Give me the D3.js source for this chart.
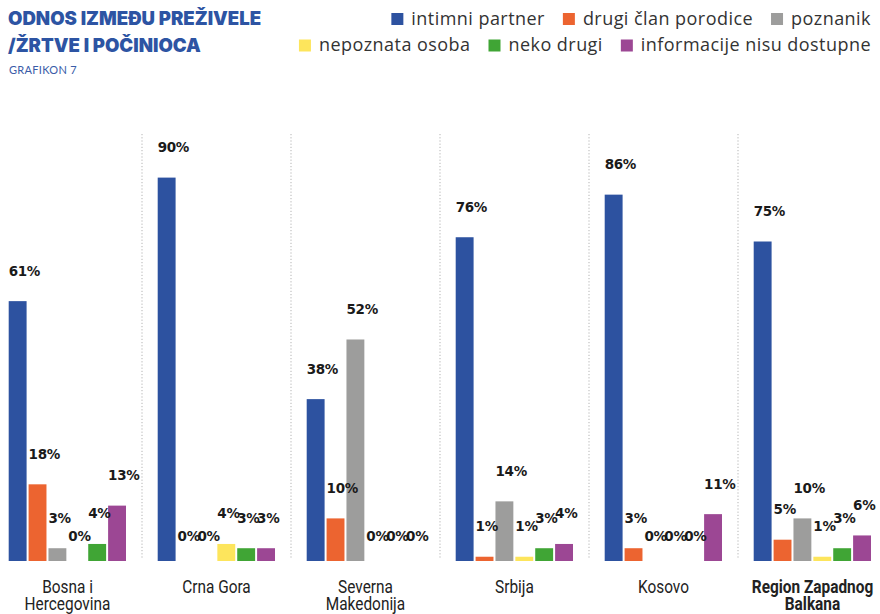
<!DOCTYPE html>
<html>
<head>
<meta charset="utf-8">
<script src="https://cdn.jsdelivr.net/npm/d3@7"></script>
<style>
  html, body { margin: 0; padding: 0; background: #fff; }
  svg { display: block; }
</style>
</head>
<body>
<svg id="chart" width="880" height="614"></svg>
<script>
const countries = ["Bosna i Hercegovina", "Crna Gora", "Severna Makedonija", "Srbija", "Kosovo", "Region Zapadnog Balkana"];
const countryLines = [["Bosna i", "Hercegovina"], ["Crna Gora"], ["Severna", "Makedonija"], ["Srbija"], ["Kosovo"], ["Region Zapadnog", "Balkana"]];
const seriesNames = ["intimni partner", "drugi član porodice", "poznanik", "nepoznata osoba", "neko drugi", "informacije nisu dostupne"];
const seriesColors = ["#2d52a0", "#ec6430", "#9d9d9c", "#fde55c", "#40a535", "#9c4794"];

const intimniPartner = [61, 90, 38, 76, 86, 75];
const drugiClanPorodice = [18, 0, 10, 1, 3, 5];
const poznanik = [3, 0, 52, 14, 0, 10];
const nepoznataOsoba = [0, 4, 0, 1, 0, 1];
const nekoDrugi = [4, 3, 0, 3, 0, 3];
const informacijeNisuDostupne = [13, 3, 0, 4, 11, 6];
const seriesValues = [intimniPartner, drugiClanPorodice, poznanik, nepoznataOsoba, nekoDrugi, informacijeNisuDostupne];

const svg = d3.select("#chart");

// Title
const titleColor = "#2d54a3";
svg.append("text").attr("x", 8).attr("y", 25)
  .attr("font-family", "Inter, Lato, sans-serif").attr("font-weight", 900)
  .attr("font-size", 18.6).attr("fill", titleColor)
  .text("ODNOS IZMEĐU PREŽIVELE");
svg.append("text").attr("x", 8).attr("y", 52)
  .attr("font-family", "Inter, Lato, sans-serif").attr("font-weight", 900)
  .attr("font-size", 18.6).attr("fill", titleColor)
  .text("/ŽRTVE I POČINIOCA");
svg.append("text").attr("x", 9).attr("y", 73.5)
  .attr("font-family", "Lato, sans-serif").attr("font-weight", 400)
  .attr("font-size", 11).attr("letter-spacing", 0.3).attr("fill", "#3a5ca8")
  .text("GRAFIKON 7");

// Legend (right-aligned rows)
const legendRows = [[0, 1, 2], [3, 4, 5]];
const legendRight = 871;
const legendBaselines = [24.5, 51];
legendRows.forEach((row, ri) => {
  const g = svg.append("g");
  let x = legendRight;
  for (let k = row.length - 1; k >= 0; k--) {
    const si = row[k];
    const t = g.append("text")
      .attr("y", legendBaselines[ri])
      .attr("font-family", "'Open Sans', sans-serif")
      .attr("font-size", 18).attr("letter-spacing", 0.45)
      .attr("fill", "#333")
      .text(seriesNames[si]);
    const w = t.node().getComputedTextLength();
    x -= w;
    t.attr("x", x);
    x -= 8 + 12;
    g.append("rect").attr("x", x).attr("y", legendBaselines[ri] - 11.5)
      .attr("width", 12).attr("height", 12).attr("fill", seriesColors[si]);
    x -= 18;
  }
});

// Scales
const x0 = d3.scaleBand().domain(countries).range([-7, 887]).paddingInner(0).paddingOuter(0);
const x1 = d3.scaleBand().domain(seriesNames).range([15.7, 133]).paddingInner(0.1).paddingOuter(0);
const y = d3.scaleLinear().domain([0, 100]).range([561, 135]);

// Separators
svg.append("g").selectAll("line")
  .data(countries.slice(1))
  .join("line")
  .attr("x1", d => x0(d)).attr("x2", d => x0(d))
  .attr("y1", 134).attr("y2", 558)
  .attr("stroke", "#b3b3b3").attr("stroke-width", 1)
  .attr("stroke-dasharray", "1.2,2");

// Bars
const groups = svg.append("g").selectAll("g")
  .data(countries)
  .join("g")
  .attr("transform", d => `translate(${x0(d)},0)`);

groups.selectAll("rect")
  .data((c, ci) => seriesNames.map((s, si) => ({ s, si, v: seriesValues[si][ci] })))
  .join("rect")
  .attr("x", d => x1(d.s))
  .attr("width", x1.bandwidth())
  .attr("y", d => y(d.v))
  .attr("height", d => y(0) - y(d.v))
  .attr("fill", d => seriesColors[d.si]);

groups.selectAll("text.val")
  .data((c, ci) => seriesNames.map((s, si) => ({ s, si, v: seriesValues[si][ci] })))
  .join("text")
  .attr("class", "val")
  .attr("x", d => x1(d.s))
  .attr("y", d => y(d.v) - (d.v > 0 ? 25.5 : 20))
  .attr("font-family", "'DejaVu Sans', sans-serif").attr("font-weight", 700)
  .attr("font-size", 13.5).attr("letter-spacing", -0.3)
  .attr("fill", "#1a1a1a")
  .text(d => d.v + "%");

// Category labels (horizontally condensed)
groups.each(function (c, ci) {
  const g = d3.select(this);
  const bold = ci === countries.length - 1;
  countryLines[ci].forEach((line, li) => {
    g.append("text")
      .attr("transform", `translate(${x0.bandwidth() / 2},${593 + li * 17}) scale(0.88,1)`)
      .attr("text-anchor", "middle")
      .attr("font-family", "Roboto, sans-serif")
      .attr("font-weight", bold ? 700 : 400)
      .attr("font-size", 17.5)
      .attr("fill", "#222")
      .text(line);
  });
});
</script>
</body>
</html>
